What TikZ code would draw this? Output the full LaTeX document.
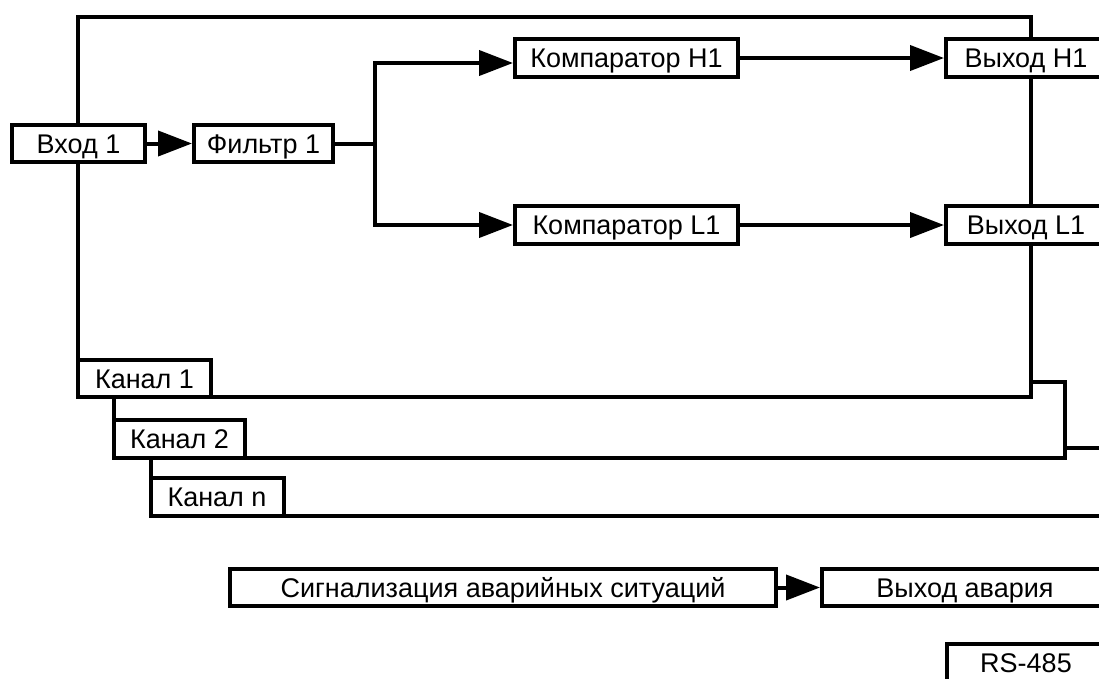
\documentclass[tikz,border=0pt]{standalone}
\usepackage{fontspec}
\setmainfont{Liberation Sans}
\usetikzlibrary{arrows.meta,positioning}

\tikzset{
  blok/.style={draw=black,fill=white,line width=4pt,inner sep=0pt,
    minimum height=37pt,text height=19.5pt,text depth=0pt,
    font=\fontsize{27}{31}\selectfont},
  kanalframe/.style={draw=black,fill=white,line width=4pt},
  link/.style={line width=4pt},
  arr/.style={link,-{Triangle[length=34pt,width=25pt]}}
}

\begin{document}
\begin{tikzpicture}[x=1pt,y=-1pt]
\useasboundingbox (0,0) rectangle (1099,678);
\clip (0,0) rectangle (1099,678);

\foreach \xl/\yt/\xr/\yb in {150.5/448/1130/515.5,113.7/381.5/1064.7/458,78/16.5/1031/397}
  \draw[kanalframe] (\xl,\yt) rectangle (\xr,\yb);

\node[blok,minimum width=133pt] (kanal1) at (144.5,378.5) {Канал 1};
\node[blok,minimum width=131pt,minimum height=38pt] (kanal2) at (179.5,439) {Канал 2};
\node[blok,minimum width=133pt,minimum height=37.5pt] (kanaln) at (217,497) {Канал n};

\node[blok,minimum width=133pt] (vhod) at (78.5,143.5) {Вход 1};
\node[blok,minimum width=139pt] (filtr) at (263.5,143.5) {Фильтр 1};
\node[blok,minimum width=223pt,minimum height=38pt] (kompH) at (626.5,58) {Компаратор H1};
\node[blok,minimum width=223pt,minimum height=38pt] (kompL) at (626.5,225) {Компаратор L1};
\node[blok,minimum width=160pt,minimum height=38pt] (vyhH) at (1026,58) {Выход H1};
\node[blok,minimum width=160pt,minimum height=38pt] (vyhL) at (1026,225) {Выход L1};
\coordinate (razv) at (375,143.5);

\draw[arr] (vhod) -- (filtr);
\draw[link] (filtr) -- (razv);
\draw[arr] (razv) |- ([yshift=-5pt]kompH.west);
\draw[arr] (razv) |- (kompL);
\draw[arr] (kompH) -- (vyhH);
\draw[arr] (kompL) -- (vyhL);

\node[blok,minimum width=546pt] (signal) at (503,587.5) {Сигнализация аварийных ситуаций};
\node[blok,minimum width=286pt] (vyhA) at (965,587.5) {Выход авария};
\draw[arr] (signal) -- (vyhA);
\node[blok,minimum width=158pt,minimum height=38pt] (rs) at (1026,663) {RS-485};
\end{tikzpicture}
\end{document}
